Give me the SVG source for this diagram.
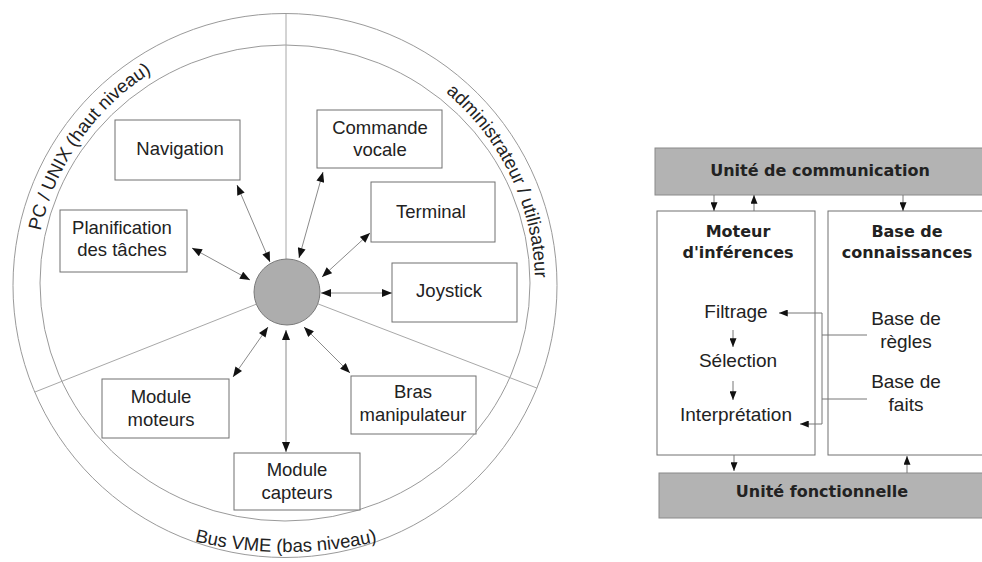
<svg xmlns="http://www.w3.org/2000/svg" width="982" height="562" viewBox="0 0 982 562">
<style>
.ring{fill:none;stroke:#9a9a9a;stroke-width:1}
.div{fill:none;stroke:#a8a8a8;stroke-width:1}
.box{fill:#fff;stroke:#707070;stroke-width:1}
.con{fill:none;stroke:#8a8a8a;stroke-width:1}
.con2{fill:none;stroke:#777;stroke-width:1}
.t{font-family:"Liberation Sans",Arial,sans-serif;font-size:18.5px;fill:#222;text-anchor:middle}
.tr{font-family:"Liberation Sans",Arial,sans-serif;font-size:19px;fill:#222;text-anchor:middle}
.arc{font-family:"Liberation Sans",Arial,sans-serif;font-size:18.5px;fill:#222}
.b{font-family:"DejaVu Sans",sans-serif;font-weight:bold;font-size:16px;fill:#222;text-anchor:middle}
.bar{fill:#b3b3b3;stroke:#8a8a8a;stroke-width:1}
</style>
<defs>
<marker id="ah" viewBox="0 0 10 8" refX="10" refY="4" markerWidth="11" markerHeight="8" markerUnits="userSpaceOnUse" orient="auto-start-reverse">
<path d="M0,0 L10,4 L0,8 Z" fill="#111"/>
</marker>
<marker id="as" viewBox="0 0 10 8" refX="10" refY="4" markerWidth="9" markerHeight="7" markerUnits="userSpaceOnUse" orient="auto-start-reverse">
<path d="M0,0 L10,4 L0,8 Z" fill="#111"/>
</marker>
<path id="pArcL" d="M35.95,305.79 A250,250 0 0 1 220.30,42.52"/>
<path id="pArcR" d="M387.9,56.1 A250,250 0 0 1 527.25,345.75"/>
<path id="pArcB" d="M149.2,527.9 A400,400 0 0 0 422.8,527.9"/>
</defs>

<g id="rings">
<circle class="ring" cx="285" cy="285.5" r="272"/>
<ellipse class="ring" cx="285" cy="283" rx="245" ry="238"/>
<line class="div" x1="286" y1="14" x2="286" y2="259"/>
<line class="div" x1="256.3" y1="304.2" x2="34.7" y2="392.1"/>
<line class="div" x1="317.8" y1="303.8" x2="537" y2="388.1"/>
</g>

<g id="ring-labels">
<text class="arc"><textPath href="#pArcL" startOffset="50%" text-anchor="middle">PC / UNIX (haut niveau)</textPath></text>
<text class="arc"><textPath href="#pArcR" startOffset="50%" text-anchor="middle">administrateur / utilisateur</textPath></text>
<text class="arc"><textPath href="#pArcB" startOffset="50%" text-anchor="middle">Bus VME (bas niveau)</textPath></text>
</g>

<g id="connectors">
<line class="con" x1="237" y1="185" x2="270" y2="262" marker-start="url(#ah)" marker-end="url(#ah)"/>
<line class="con" x1="192" y1="248" x2="250" y2="280" marker-start="url(#ah)" marker-end="url(#ah)"/>
<line class="con" x1="323" y1="172" x2="299" y2="258" marker-start="url(#ah)" marker-end="url(#ah)"/>
<line class="con" x1="370" y1="233" x2="322" y2="277" marker-start="url(#ah)" marker-end="url(#ah)"/>
<line class="con" x1="321" y1="293" x2="392" y2="293" marker-start="url(#ah)" marker-end="url(#ah)"/>
<line class="con" x1="304" y1="327" x2="350" y2="373" marker-start="url(#ah)" marker-end="url(#ah)"/>
<line class="con" x1="286" y1="330" x2="286" y2="452" marker-start="url(#ah)" marker-end="url(#ah)"/>
<line class="con" x1="268" y1="327" x2="233" y2="377" marker-start="url(#ah)" marker-end="url(#ah)"/>
</g>

<g id="centre">
<circle cx="287" cy="292" r="33" fill="#adadad" stroke="#7a7a7a" stroke-width="1"/>
</g>

<g id="navigation">
<rect class="box" x="115" y="120" width="125" height="60"/>
<text class="t" x="180" y="155">Navigation</text>
</g>
<g id="planification">
<rect class="box" x="60" y="210" width="127" height="62"/>
<text class="t" x="122" y="234">Planification</text>
<text class="t" x="122" y="256">des tâches</text>
</g>
<g id="commande-vocale">
<rect class="box" x="317" y="110" width="125" height="58"/>
<text class="t" x="380" y="134">Commande</text>
<text class="t" x="380" y="156">vocale</text>
</g>
<g id="terminal">
<rect class="box" x="371" y="182" width="124" height="60"/>
<text class="t" x="431" y="218">Terminal</text>
</g>
<g id="joystick">
<rect class="box" x="392" y="263" width="125" height="59"/>
<text class="t" x="449" y="297">Joystick</text>
</g>
<g id="bras-manipulateur">
<rect class="box" x="351" y="376" width="125" height="58"/>
<text class="t" x="413" y="398">Bras</text>
<text class="t" x="413" y="421">manipulateur</text>
</g>
<g id="module-capteurs">
<rect class="box" x="234" y="453" width="126" height="57"/>
<text class="t" x="297" y="476">Module</text>
<text class="t" x="297" y="499">capteurs</text>
</g>
<g id="module-moteurs">
<rect class="box" x="102" y="379" width="127" height="59"/>
<text class="t" x="161" y="403">Module</text>
<text class="t" x="161" y="426">moteurs</text>
</g>

<g id="unite-communication">
<rect class="bar" x="655" y="148" width="340" height="47"/>
<text class="b" x="820" y="176">Unité de communication</text>
</g>
<g id="moteur-inferences">
<rect class="box" x="657" y="211" width="158" height="244"/>
<text class="b" x="738" y="237">Moteur</text>
<text class="b" x="738" y="258">d'inférences</text>
<text class="tr" x="736" y="318">Filtrage</text>
<text class="tr" x="738" y="367">Sélection</text>
<text class="tr" x="736" y="421">Interprétation</text>
</g>
<g id="base-connaissances">
<rect class="box" x="828" y="211" width="170" height="244"/>
<text class="b" x="907" y="237">Base de</text>
<text class="b" x="907" y="258">connaissances</text>
<text class="tr" x="906" y="325">Base de</text>
<text class="tr" x="906" y="348">règles</text>
<text class="tr" x="906" y="388">Base de</text>
<text class="tr" x="906" y="411">faits</text>
</g>
<g id="unite-fonctionnelle">
<rect class="bar" x="659" y="473" width="340" height="45"/>
<text class="b" x="822" y="497">Unité fonctionnelle</text>
</g>

<g id="connectors-right">
<line class="con2" x1="714" y1="195" x2="714" y2="211" marker-end="url(#as)"/>
<line class="con2" x1="754" y1="211" x2="754" y2="195" marker-end="url(#as)"/>
<line class="con2" x1="903" y1="195" x2="903" y2="211" marker-end="url(#as)"/>
<line class="con2" x1="733" y1="330" x2="733" y2="347" marker-end="url(#as)"/>
<line class="con2" x1="733" y1="381" x2="733" y2="400" marker-end="url(#as)"/>
<polyline class="con2" points="779,313 822,313 822,424 800,424" marker-start="url(#as)" marker-end="url(#as)"/>
<line class="con2" x1="822" y1="335" x2="867" y2="335"/>
<line class="con2" x1="822" y1="399" x2="867" y2="399"/>
<line class="con2" x1="734" y1="455" x2="734" y2="471" marker-end="url(#as)"/>
<line class="con2" x1="907" y1="473" x2="907" y2="456" marker-end="url(#as)"/>
</g>
</svg>
